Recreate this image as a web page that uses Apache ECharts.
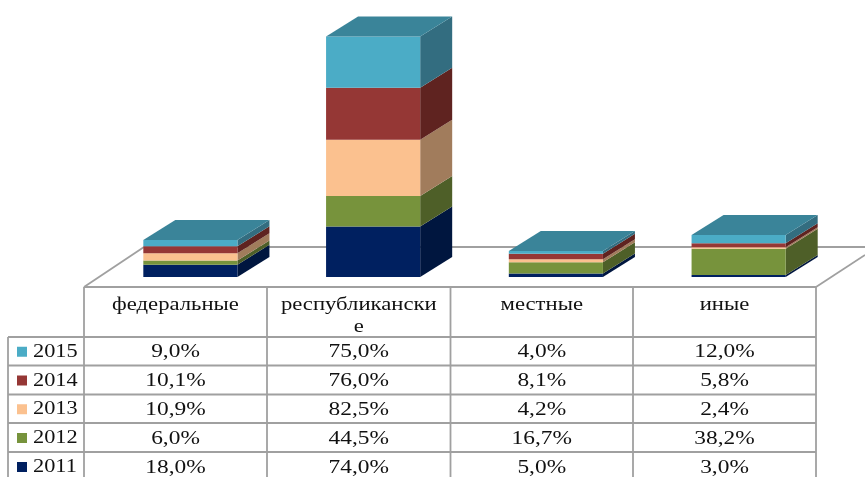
<!DOCTYPE html>
<html><head><meta charset="utf-8">
<style>html,body{margin:0;padding:0;background:#fff}#c{width:865px;height:477px}#c canvas{filter:blur(.4px)}</style>
<script src="https://cdn.jsdelivr.net/npm/echarts@6/dist/echarts.min.js"></script>
</head><body><div id="c"></div>
<script>
const categories = ['федеральные','республикански\nе','местные','иные'];
const years = ['2011','2012','2013','2014','2015'];
const v2011 = [18.0,74.0,5.0,3.0];
const v2012 = [6.0,44.5,16.7,38.2];
const v2013 = [10.9,82.5,4.2,2.4];
const v2014 = [10.1,76.0,8.1,5.8];
const v2015 = [9.0,75.0,4.0,12.0];
const valuesByYear = [v2011,v2012,v2013,v2014,v2015];
const frontColors = ['#002060','#77933C','#FBC18F','#953735','#4BACC6'];
const sideColors  = ['#00163F','#4E5F28','#A17C5C','#5F2320','#336D80'];
const topColor = '#3A8499';

const colX = [84,267,450.5,633,816];
const rowY = [337,365.5,394.5,423,452];
const lineColor = '#A0A0A0';
const font = '18px "Liberation Serif"';
const DX = 32, DY = -20;

const gfx = [];
function line(x1,y1,x2,y2){gfx.push({type:'line',silent:true,shape:{x1,y1,x2,y2},style:{stroke:lineColor,lineWidth:1.8}});}
function text(str,x,y,align,sx){gfx.push({type:'text',silent:true,x,y,scaleX:sx,style:{text:str,font,fill:'#111',textAlign:align||'center',textVerticalAlign:'middle'}});}

// floor
line(84,287,144,247); line(144,247,865,247); line(816,287,865,255);
// table grid
line(84,287,816,287);
rowY.forEach(y=>line(8,y,816,y));
line(8,337,8,477);
colX.forEach(x=>line(x,287,x,477));
// header
categories.forEach((c,i)=>{
  const cx=(colX[i]+colX[i+1])/2;
  c.split('\n').forEach((t,k)=>text(t,cx,305+k*22.5,'center',1.26));
});
// rows (top row = last year)
for(let r=0;r<5;r++){
  const idx=4-r, y=(rowY[r]+(rowY[r+1]||481))/2;
  gfx.push({type:'rect',silent:true,shape:{x:17,y:y-4.5,width:10,height:10},style:{fill:frontColors[idx]}});
  text(years[idx],33,y+1,'left',1.24);
  valuesByYear[idx].forEach((v,i)=>{
    text(v.toFixed(1).replace('.',',')+'%',(colX[i]+colX[i+1])/2,y+1.5,'center',1.3);
  });
}

function makeSeries(yi){
  return {
    type:'custom', name:years[yi], coordinateSystem:'cartesian2d', z:2+yi,
    data: valuesByYear[yi].map((v,i)=>[i,v]),
    encode:{x:0,y:1},
    renderItem(params,api){
      const i=api.value(0), v=api.value(1);
      let base=0; for(let k=0;k<yi;k++) base+=valuesByYear[k][i];
      const p0=api.coord([i,base]), p1=api.coord([i,base+v]);
      const w=api.size([1,0])[0]*0.515;
      const l=p0[0]-w/2, r=p0[0]+w/2, b=p0[1], t=p1[1];
      const kids=[
        {type:'polygon',shape:{points:[[r,b],[r+DX,b+DY],[r+DX,t+DY],[r,t]]},style:{fill:sideColors[yi]}},
        {type:'rect',shape:{x:l,y:t,width:w,height:b-t},style:{fill:frontColors[yi]}}
      ];
      if(yi===4) kids.push({type:'polygon',shape:{points:[[l,t],[l+DX,t+DY],[r+DX,t+DY],[r,t]]},style:{fill:topColor}});
      return {type:'group',children:kids};
    }
  };
}

const chart = echarts.init(document.getElementById('c'),null,{renderer:'canvas'});
chart.setOption({
  animation:false,
  backgroundColor:'#fff',
  grid:{left:99,width:731,top:3.8,height:273.2},
  xAxis:{type:'category',data:categories,show:false},
  yAxis:{type:'value',min:0,max:400,show:false},
  graphic:{elements:gfx},
  series:years.map((y,i)=>makeSeries(i))
});
</script></body></html>
